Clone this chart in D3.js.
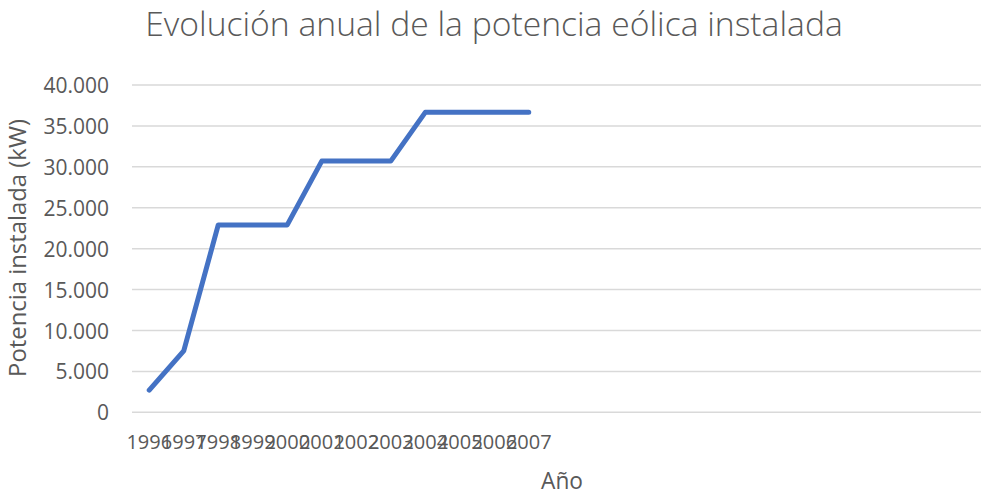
<!DOCTYPE html>
<html>
<head>
<meta charset="utf-8">
<script src="https://cdn.jsdelivr.net/npm/d3@7"></script>
<style>
  html, body { margin: 0; padding: 0; background: #ffffff; }
  svg { display: block; }
  text { font-family: "Open Sans", "Lato", sans-serif; fill: #595959; }
</style>
</head>
<body>
<svg id="chart" width="981" height="494"></svg>
<script>
// Installed wind power per year (kW)
const years = ["1996", "1997", "1998", "1999", "2000", "2001", "2002", "2003", "2004", "2005", "2006", "2007"];
const potencia = [2700, 7500, 22900, 22900, 22900, 30700, 30700, 30700, 36660, 36660, 36660, 36660];
const yTicks = [0, 5000, 10000, 15000, 20000, 25000, 30000, 35000, 40000];

const titleText = "Evolución anual de la potencia eólica instalada";
const yTitle = "Potencia instalada (kW)";
const xTitle = "Año";

const svg = d3.select("#chart");
const plot = { left: 132, right: 981, top: 85, bottom: 412.3 };
const step = 34.5;

const x = d3.scaleBand()
  .domain(years)
  .range([plot.left, plot.left + step * years.length])
  .padding(0);

const y = d3.scaleLinear()
  .domain([0, 40000])
  .range([plot.bottom, plot.top]);

const es = d3.formatLocale({ decimal: ",", thousands: ".", grouping: [3], currency: ["", " €"] });
const fmt = es.format(",d");

// fit a text element's font size so it spans the given width
function fitWidth(sel, baseSize, width) {
  const w = sel.node().getComputedTextLength();
  sel.attr("font-size", baseSize * width / w);
}

// horizontal gridlines
svg.append("g")
  .selectAll("line")
  .data(yTicks)
  .join("line")
  .attr("x1", plot.left)
  .attr("x2", plot.right)
  .attr("y1", d => y(d))
  .attr("y2", d => y(d))
  .attr("stroke", "#d9d9d9")
  .attr("stroke-width", 1.5);

// y axis labels
const yAxis = d3.axisLeft(y).tickValues(yTicks).tickFormat(fmt).tickSize(0).tickPadding(0);
const gy = svg.append("g").attr("transform", `translate(${109},0)`).call(yAxis);
gy.select(".domain").remove();
gy.selectAll("text")
  .attr("font-family", "'Open Sans', sans-serif")
  .attr("font-size", 21)
  .attr("fill", "#595959")
  .attr("dy", "0.36em");

// x axis labels (category names centred on each point)
const xAxis = d3.axisBottom(x).tickSize(0).tickPadding(0);
const gx = svg.append("g").attr("transform", `translate(0,${434})`).call(xAxis);
gx.select(".domain").remove();
gx.selectAll("text")
  .attr("font-family", "'Open Sans', sans-serif")
  .attr("font-size", 20)
  .attr("fill", "#595959")
  .attr("dy", "0.75em");

// data line
const line = d3.line()
  .x((d, i) => x(years[i]) + x.bandwidth() / 2)
  .y(d => y(d));

svg.append("path")
  .datum(potencia)
  .attr("d", line)
  .attr("fill", "none")
  .attr("stroke", "#4472c4")
  .attr("stroke-width", 5)
  .attr("stroke-linejoin", "round")
  .attr("stroke-linecap", "round");

// title
const t = svg.append("text")
  .attr("x", 494)
  .attr("y", 36)
  .attr("text-anchor", "middle")
  .attr("font-weight", 300)
  .attr("font-size", 32)
  .attr("fill", "#595959")
  .text(titleText);
fitWidth(t, 32, 698);

// axis titles
const yt = svg.append("text")
  .attr("transform", `translate(${26},${248}) rotate(-90)`)
  .attr("text-anchor", "middle")
  .attr("font-size", 21)
  .text(yTitle);
fitWidth(yt, 21, 258);

const xt = svg.append("text")
  .attr("x", 562)
  .attr("y", 489)
  .attr("text-anchor", "middle")
  .attr("font-size", 21)
  .text(xTitle);
fitWidth(xt, 21, 42);
</script>
</body>
</html>
